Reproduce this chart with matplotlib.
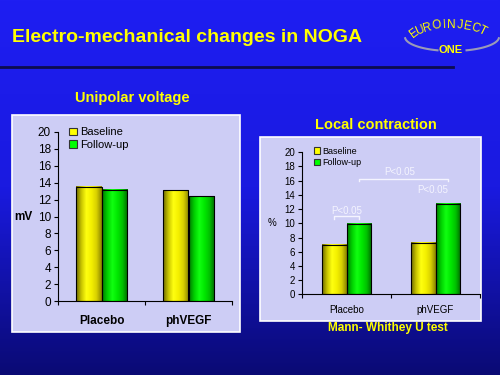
import numpy as np
import matplotlib
matplotlib.use("Agg")
import matplotlib.pyplot as plt
from matplotlib.colors import LinearSegmentedColormap
from matplotlib.patches import Rectangle, Patch

plt.rcParams['font.family'] = ['Liberation Sans', 'DejaVu Sans']

# data
groups = ['Placebo', 'phVEGF']
volt_baseline = [13.5, 13.1]
volt_followup = [13.15, 12.4]
contr_baseline = [7.0, 7.2]
contr_followup = [9.9, 12.7]
y_ticks = list(range(0, 21, 2))

YELLOW = '#ffff00'
PANEL = '#cdcdf5'
yellow_cmap = LinearSegmentedColormap.from_list(
    'yb', ['#6e6a00', '#c8c400', '#ffff10', '#f4f000', '#d8d000', '#8a8400'])
green_cmap = LinearSegmentedColormap.from_list(
    'gb', ['#007a00', '#00d000', '#10ff10', '#00e800', '#00c000', '#006a00'])

fig = plt.figure(figsize=(5, 3.75), dpi=100)

# background layer in pixel coordinates
bg = fig.add_axes([0, 0, 1, 1], zorder=0)
grad = np.linspace(0, 1, 256).reshape(-1, 1)
bg_cmap = LinearSegmentedColormap.from_list('bg', ['#1e1ef2', '#1a1ae0', '#0a0a74'])
bg.imshow(grad, cmap=bg_cmap, extent=[0, 500, 375, 0], aspect='auto')
bg.set_xlim(0, 500)
bg.set_ylim(375, 0)
bg.axis('off')

bg.add_patch(Rectangle((12, 115), 228, 217, facecolor=PANEL, edgecolor='white', lw=1.2))
bg.add_patch(Rectangle((260, 137), 221, 184, facecolor=PANEL, edgecolor='white', lw=1.2))

bg.text(12, 37, 'Electro-mechanical changes in NOGA', color=YELLOW, fontsize=14,
        fontweight='bold', va='center')
bg.plot([0, 453], [67, 67], color='#0c0c50', lw=2)
bg.text(132, 98, 'Unipolar voltage', color=YELLOW, fontsize=10.5, fontweight='bold',
        ha='center', va='center')
bg.text(376, 125, 'Local contraction', color=YELLOW, fontsize=10.5, fontweight='bold',
        ha='center', va='center')
bg.text(388, 328, 'Mann- Whithey U test', color=YELLOW, fontsize=8.5, fontweight='bold',
        ha='center', va='center')

# logo: letters along an elliptical arc
cx, cy, a, b = 450, 40, 40, 15
letters = 'EUROINJECT'
widths = np.array([.667, .722, .722, .778, .278, .722, .5, .667, .722, .611])
frac = (np.cumsum(widths) - widths / 2) / widths.sum()
for f, ch in zip(frac, letters):
    t = np.radians(160 - f * 130)
    rot = np.degrees(np.arctan2(-b * np.cos(t), a * np.sin(t)))
    bg.text(cx + a * np.cos(t), cy - b * np.sin(t), ch, color=YELLOW, fontsize=8.5,
            ha='center', va='center', rotation=rot, rotation_mode='anchor')
for t0, t1 in [(185, 252), (288, 355)]:
    t = np.radians(np.linspace(t0, t1, 50))
    bg.plot(452 + 47 * np.cos(t), 37 - 14 * np.sin(t), color='#9a9ab8', lw=1.5)
bg.text(451, 50, 'ONE', color=YELLOW, fontsize=8, fontweight='bold', ha='center', va='center')


def shaded_bars(ax, xs, vals, width, cmap):
    bars = ax.bar(xs, vals, width, facecolor='none', edgecolor='black', lw=0.8, zorder=3)
    row = np.linspace(0, 1, 64).reshape(1, -1)
    for bar in bars:
        x0, y0 = bar.get_xy()
        ax.imshow(row, cmap=cmap, extent=[x0, x0 + bar.get_width(), y0, y0 + bar.get_height()],
                  aspect='auto', zorder=2)
    return bars


def draw_chart(rect, base, follow, width, fs, bold, ylabel, ylabel_x, xpad, leg_anchor):
    ax = fig.add_axes(rect, zorder=2)
    ax.patch.set_visible(False)
    x = np.arange(len(groups))
    shaded_bars(ax, x - width / 2, base, width, yellow_cmap)
    shaded_bars(ax, x + width / 2, follow, width, green_cmap)
    ax.set_xlim(-0.5, 1.5)
    ax.set_ylim(0, 20)
    ax.set_yticks(y_ticks)
    ax.tick_params(axis='y', direction='out', length=3, pad=2, labelsize=fs)
    ax.set_xticks([-0.5, 0.5, 1.5])
    ax.set_xticklabels([])
    ax.tick_params(axis='x', which='major', direction='out', length=3)
    ax.set_xticks(x, minor=True)
    ax.set_xticklabels(groups, minor=True, fontsize=fs, fontweight='bold' if bold else 'normal')
    ax.tick_params(axis='x', which='minor', length=0, pad=xpad)
    for s in ['top', 'right']:
        ax.spines[s].set_visible(False)
    for s in ['left', 'bottom']:
        ax.spines[s].set_linewidth(0.8)
    ax.text(ylabel_x, 0.5, ylabel, transform=ax.transAxes, ha='center', va='center',
            fontsize=fs, fontweight='bold' if bold else 'normal')
    handles = [Patch(facecolor=YELLOW, edgecolor='#333333', lw=0.8),
               Patch(facecolor='#00ff00', edgecolor='#333333', lw=0.8)]
    ax.legend(handles, ['Baseline', 'Follow-up'], loc='upper left', bbox_to_anchor=leg_anchor,
              frameon=False, fontsize=fs - 0.5, handlelength=0.7, handleheight=0.7,
              handletextpad=0.3, borderpad=0, labelspacing=0.25)
    return ax


draw_chart([0.116, 0.197, 0.348, 0.451], volt_baseline, volt_followup, 0.29, 8.5, True,
           'mV', -0.2, 10, (0.03, 1.06))
ax2 = draw_chart([0.604, 0.215, 0.356, 0.379], contr_baseline, contr_followup, 0.28, 7, False,
                 '%', -0.17, 7.5, (0.04, 1.07))

# significance markers
w = 0.28
ann = '#f4f4ff'
ax2.plot([-w / 2, -w / 2, w / 2, w / 2], [10.6, 11.0, 11.0, 10.6], color=ann, lw=1)
ax2.text(0, 11.8, 'P<0.05', color=ann, fontsize=7, ha='center', va='center')
ax2.plot([w / 2, w / 2, 1 + w / 2, 1 + w / 2], [15.9, 16.2, 16.2, 15.9], color=ann, lw=1)
ax2.text(0.6, 17.2, 'P<0.05', color=ann, fontsize=7, ha='center', va='center')
ax2.text(0.97, 14.7, 'P<0.05', color=ann, fontsize=7, ha='center', va='center')

fig.savefig('out.png', dpi=100)
